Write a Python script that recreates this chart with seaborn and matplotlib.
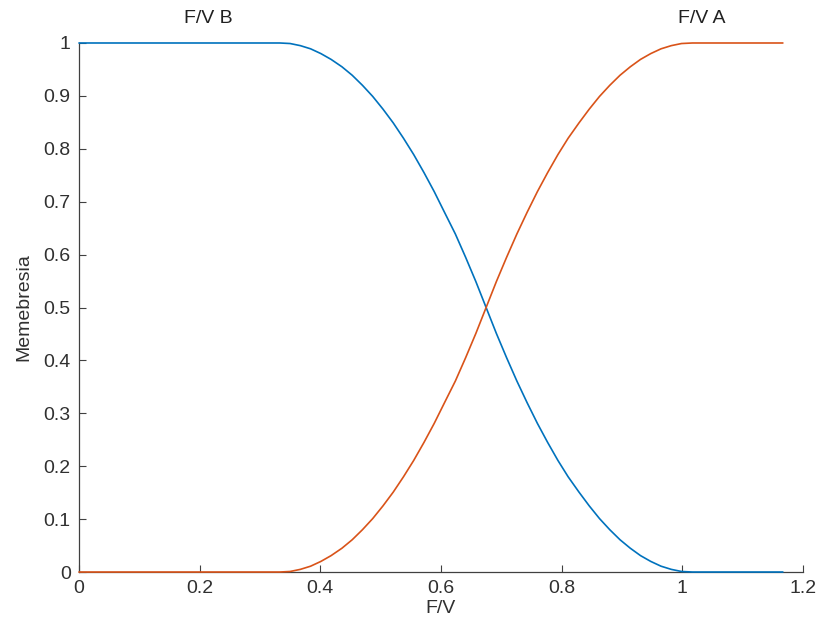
import numpy as np
import matplotlib
matplotlib.use("Agg")
import matplotlib.pyplot as plt
import pandas as pd
import seaborn as sns

# valores (F/V vs memebresia)
fv = [0.0, 0.333, 0.350, 0.367, 0.384, 0.401, 0.418, 0.436, 0.453, 0.470, 0.487,
      0.504, 0.521, 0.538, 0.555, 0.572, 0.589, 0.606, 0.624, 0.641, 0.658,
      0.675, 0.692, 0.709, 0.726, 0.743, 0.760, 0.777, 0.794, 0.811, 0.829,
      0.846, 0.863, 0.880, 0.897, 0.914, 0.931, 0.948, 0.965, 0.982, 0.999,
      1.017, 1.167]
mem_b = [1.0, 1.0, 0.999, 0.995, 0.989, 0.98, 0.969, 0.955, 0.939, 0.92, 0.899,
         0.875, 0.849, 0.82, 0.789, 0.755, 0.719, 0.68, 0.639, 0.595, 0.549,
         0.5, 0.451, 0.405, 0.361, 0.32, 0.281, 0.245, 0.211, 0.18, 0.151,
         0.125, 0.101, 0.08, 0.061, 0.045, 0.031, 0.02, 0.011, 0.005, 0.001,
         0.0, 0.0]
mem_a = [0.0, 0.0, 0.001, 0.005, 0.011, 0.02, 0.031, 0.045, 0.061, 0.08, 0.101,
         0.125, 0.151, 0.18, 0.211, 0.245, 0.281, 0.32, 0.361, 0.405, 0.451,
         0.5, 0.549, 0.595, 0.639, 0.68, 0.719, 0.755, 0.789, 0.82, 0.849,
         0.875, 0.899, 0.92, 0.939, 0.955, 0.969, 0.98, 0.989, 0.995, 0.999,
         1.0, 1.0]
rotulos = ["F/V B", "F/V A"]
pos_rotulos = [0.214, 1.033]
xticks = [0, 0.2, 0.4, 0.6, 0.8, 1, 1.2]
yticks = [0, 0.1, 0.2, 0.3, 0.4, 0.5, 0.6, 0.7, 0.8, 0.9, 1]

df = pd.DataFrame({"F/V": fv, "F/V B": mem_b, "F/V A": mem_a})

sns.set_style("ticks")
plt.rcParams["font.family"] = ["Liberation Sans", "DejaVu Sans"]
cinza = "#404040"

fig = plt.figure(figsize=(8.2, 6.36), dpi=100)
ax = fig.add_axes([0.0963, 0.1006, 0.8827, 0.8318])

for serie, cor in [("F/V B", "#0072BD"), ("F/V A", "#D95319")]:
    sns.lineplot(data=df, x="F/V", y=serie, color=cor, linewidth=1.2, ax=ax)
for linha in ax.lines:
    linha.set_clip_on(False)
    linha.set_zorder(5)

for txt, xp in zip(rotulos, pos_rotulos):
    ax.text(xp, 1.047, txt, ha="center", va="center", fontsize=14, color="#202020")

ax.set_xlim(0, 1.2)
ax.set_ylim(0, 1)
ax.set_xticks(xticks)
ax.set_xticklabels([f"{t:g}" for t in xticks])
ax.set_yticks(yticks)
ax.set_yticklabels([f"{t:g}" for t in yticks])
ax.tick_params(direction="in", length=5, width=0.8, colors=cinza, labelsize=14,
               labelcolor="#303030", pad=6)
for lado in ["top", "right"]:
    ax.spines[lado].set_visible(False)
for lado in ["left", "bottom"]:
    ax.spines[lado].set_color(cinza)
    ax.spines[lado].set_linewidth(0.9)
ax.set_xlabel("F/V", fontsize=14, color="#303030", labelpad=2)
ax.set_ylabel("Memebresia", fontsize=14, color="#303030", labelpad=8)

fig.savefig("out.png", dpi=100)
